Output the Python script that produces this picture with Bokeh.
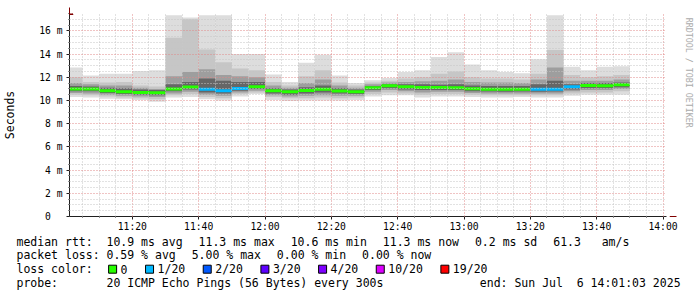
import re
import pandas as pd
from bokeh.plotting import figure
from bokeh.layouts import column, row
from bokeh.models import (Range1d, FixedTicker, DatetimeTickFormatter, Arrow, NormalHead,
                          ColumnDataSource)
from bokeh.core.properties import value
from bokeh.embed import file_html
from bokeh.resources import INLINE

# ---------------- data ----------------
t_start = pd.Timestamp("2025-07-06 11:01:03")
t_end = pd.Timestamp("2025-07-06 14:01:03")
bar_end = list(pd.date_range("2025-07-06 11:05:00", periods=34, freq="5min"))

rtt_median = [11.00, 11.00, 10.85, 10.75, 10.70, 10.67, 11.00, 11.16, 10.96, 10.84,
              11.04, 11.19, 10.84, 10.75, 10.87, 10.96, 10.81, 10.75, 11.10, 11.27,
              11.19, 11.13, 11.13, 11.10, 11.01, 10.98, 10.98, 10.98, 10.96, 10.98,
              11.19, 11.30, 11.27, 11.35]
rtt_max = [12.85, 12.15, 12.30, 12.30, 12.55, 12.60, 17.35, 17.15, 17.35, 17.35,
           14.00, 14.00, 12.25, 11.60, 13.25, 13.95, 12.15, 11.50, 11.75, 11.95,
           12.45, 12.60, 13.75, 14.15, 13.10, 12.60, 12.45, 12.35, 13.55, 17.35,
           12.90, 12.60, 12.90, 12.95]
rtt_p90 = [12.00, 11.60, 11.55, 11.60, 11.30, 11.20, 15.40, 17.00, 14.40, 13.30,
           12.75, 12.60, 11.60, 11.30, 12.10, 12.60, 11.55, 11.30, 11.55, 11.70,
           11.90, 12.00, 12.30, 12.50, 12.00, 11.90, 11.90, 11.80, 12.30, 14.35,
           12.20, 12.00, 12.10, 12.20]
rtt_p75 = [11.50, 11.40, 11.30, 11.30, 11.10, 11.00, 12.10, 12.45, 12.70, 12.20,
           12.10, 12.00, 11.30, 11.10, 11.50, 11.80, 11.30, 11.10, 11.40, 11.55,
           11.60, 11.65, 11.70, 11.80, 11.60, 11.55, 11.55, 11.50, 11.80, 12.85,
           11.70, 11.70, 11.70, 11.80]
rtt_p60 = [11.25, 11.20, 11.10, 11.05, 10.95, 10.90, 11.40, 11.60, 11.90, 11.70,
           11.60, 11.60, 11.05, 10.95, 11.15, 11.30, 11.05, 10.95, 11.25, 11.40,
           11.40, 11.40, 11.35, 11.40, 11.30, 11.25, 11.25, 11.25, 11.40, 11.70,
           11.40, 11.50, 11.50, 11.55]
rtt_p40 = [10.80, 10.80, 10.65, 10.55, 10.50, 10.45, 10.80, 10.95, 10.70, 10.60,
           10.85, 11.00, 10.60, 10.50, 10.60, 10.70, 10.60, 10.55, 10.90, 11.05,
           10.95, 10.90, 10.90, 10.90, 10.80, 10.78, 10.75, 10.78, 10.75, 10.78,
           10.95, 11.05, 11.05, 11.15]
rtt_p25 = [10.65, 10.60, 10.50, 10.40, 10.35, 10.30, 10.60, 10.75, 10.50, 10.40,
           10.70, 10.85, 10.45, 10.35, 10.40, 10.45, 10.40, 10.40, 10.75, 10.90,
           10.80, 10.70, 10.75, 10.75, 10.65, 10.60, 10.60, 10.60, 10.60, 10.60,
           10.80, 10.90, 10.90, 11.00]
rtt_p10 = [10.50, 10.45, 10.35, 10.25, 10.20, 10.10, 10.45, 10.55, 10.30, 10.20,
           10.55, 10.70, 10.30, 10.20, 10.20, 10.25, 10.20, 10.25, 10.55, 10.70,
           10.60, 10.50, 10.55, 10.55, 10.50, 10.45, 10.45, 10.45, 10.45, 10.45,
           10.60, 10.70, 10.70, 10.80]
rtt_min = [10.30, 10.25, 10.15, 10.10, 10.05, 9.90, 10.25, 10.30, 10.10, 10.00,
           10.35, 10.55, 10.05, 9.95, 10.00, 10.00, 10.00, 10.05, 10.35, 10.45,
           10.45, 10.25, 10.35, 10.35, 10.30, 10.25, 10.25, 10.30, 10.25, 10.25,
           10.40, 10.50, 10.50, 10.50]
loss_count = [0, 0, 0, 0, 0, 0, 0, 0, 1, 1,
              1, 0, 0, 0, 0, 0, 0, 0, 0, 0,
              0, 0, 0, 0, 0, 0, 0, 0, 1, 1,
              1, 0, 0, 0]

loss_legend = ["0", "1/20", "2/20", "3/20", "4/20", "10/20", "19/20"]
loss_keys = [0, 1, 2, 3, 4, 10, 19]
loss_colors = ["#26ff00", "#00b8ff", "#0059ff", "#5e00ff", "#7e00ff", "#dd00ff", "#ff0000"]

y_ticks = [0, 2, 4, 6, 8, 10, 12, 14, 16]
y_tick_labels = ["0\u00a0\u00a0", "2 m", "4 m", "6 m", "8 m", "10 m", "12 m", "14 m", "16 m"]

legend_line1 = ["median rtt:  10.9 ms avg", "11.3 ms max", "10.6 ms min", "11.3 ms now",
                "0.2 ms sd", "61.3   am/s"]
legend_line2 = ["packet loss: 0.59 % avg", "5.00 % max", "0.00 % min", "0.00 % now"]
legend_probe = "probe:       20 ICMP Echo Pings (56 Bytes) every 300s"
legend_end = "end: Sun Jul  6 14:01:03 2025"
watermark = "RRDTOOL / TOBI OETIKER"

# ---------------- layout constants (canvas px) ----------------
W, H = 697, 297
CH_W, CH_H = 680, 234          # chart figure size
FL, FR, FT, FB = 67, 666, 13, 216
MONO = "DejaVu Sans Mono"
FS = "11.5px"
CW = 6.92

# ---------------- chart ----------------
p = figure(width=CH_W, height=CH_H, x_axis_type="datetime", output_backend="svg",
           toolbar_location=None, title=None,
           x_range=Range1d(t_start, t_end), y_range=Range1d(0, 17.5),
           min_border_left=FL, min_border_right=CH_W - FR,
           min_border_top=FT, min_border_bottom=CH_H - FB)
p.outline_line_color = None
p.background_fill_color = "white"
p.border_fill_color = "white"

five = pd.Timedelta(minutes=5)
src = ColumnDataSource(dict(
    left=[t - five for t in bar_end], right=bar_end,
    mn=rtt_min, mx=rtt_max, p10=rtt_p10, p90=rtt_p90, p25=rtt_p25, p75=rtt_p75,
    p40=rtt_p40, p60=rtt_p60, med=rtt_median,
    col=[loss_colors[loss_keys.index(c)] for c in loss_count],
))

for lo, hi, c in [("mn", "mx", "#dddddd"), ("p10", "p90", "#c6c6c6"),
                  ("p25", "p75", "#9e9e9e"), ("p40", "p60", "#666666")]:
    p.quad(left="left", right="right", bottom=lo, top=hi, source=src,
           fill_color=c, line_color=None)

p.segment(x0="left", y0="med", x1="right", y1="med", source=src,
          line_color="col", line_width=3)


def ms(ts):
    return ts.value // 10**6


x_major = [ms(t) for t in pd.date_range("2025-07-06 11:20", "2025-07-06 14:00", freq="20min")]
x_minor = [ms(t) for t in pd.date_range("2025-07-06 11:05", "2025-07-06 14:00", freq="5min")
           if ms(t) not in x_major]
y_minor = [v / 2 for v in range(1, 36) if v % 4 != 0]

p.xaxis.ticker = FixedTicker(ticks=x_major, minor_ticks=x_minor)
p.yaxis.ticker = FixedTicker(ticks=y_ticks, minor_ticks=y_minor)
fmt = "%H:%M"
p.xaxis.formatter = DatetimeTickFormatter(minutes=fmt, hourmin=fmt, hours=fmt, minsec=fmt,
                                          seconds=fmt, days=fmt)
p.yaxis.major_label_overrides = {v: s for v, s in zip(y_ticks, y_tick_labels)}

for ax in (p.xaxis[0], p.yaxis[0]):
    ax.axis_line_color = "#202020"
    ax.major_tick_line_color = "#202020"
    ax.major_tick_out = 3
    ax.major_tick_in = 0
    ax.minor_tick_out = 1
    ax.minor_tick_in = 0
    ax.minor_tick_line_color = "#202020"
    ax.major_label_text_font = MONO
    ax.major_label_text_font_size = "9.7px"
    ax.major_label_text_color = "#000000"
p.yaxis.major_label_standoff = 4
p.xaxis.major_label_standoff = 1
p.yaxis.axis_label = "Seconds"
p.yaxis.axis_label_text_font = MONO
p.yaxis.axis_label_text_font_size = FS
p.yaxis.axis_label_text_font_style = "normal"
p.yaxis.axis_label_text_color = "#000000"
p.yaxis.axis_label_standoff = 19

for g in (p.xgrid[0], p.ygrid[0]):
    g.grid_line_color = "#e08888"
    g.grid_line_dash = "1 2"
    g.grid_line_width = 1
    g.minor_grid_line_color = "#c4c4c4"
    g.minor_grid_line_dash = "1 2"
    g.minor_grid_line_width = 1
    g.level = "guide"

red = "#800000"
p.add_layout(Arrow(end=NormalHead(size=7, fill_color=red, line_color=red),
                   x_start=0, y_start=FB - FT - 1, x_end=0, y_end=FB - 7,
                   start_units="screen", end_units="screen", line_color=red,
                   line_width=1, level="overlay"))
p.add_layout(Arrow(end=NormalHead(size=7, fill_color=red, line_color=red),
                   x_start=FR - FL + 1, y_start=0, x_end=674 - FL, y_end=0,
                   start_units="screen", end_units="screen", line_color=red,
                   line_width=1, level="overlay"))

# ---------------- watermark strip (right of chart) ----------------
wm = figure(width=W - CH_W, height=CH_H, output_backend="svg", toolbar_location=None,
            title=None, x_range=Range1d(CH_W, W), y_range=Range1d(CH_H, 0),
            x_axis_location=None, y_axis_location=None, min_border=0)
wm.outline_line_color = None
wm.grid.visible = False
wm.text(x=[688], y=[5], text=[watermark], angle=-1.5707963,
        text_font=value(MONO), text_font_size=value("8.3px"), text_color="#aaaaaa",
        text_align=value("left"), text_baseline=value("middle"))

# ---------------- legend block (below chart) ----------------
leg = figure(width=W, height=H - CH_H, output_backend="svg", toolbar_location=None,
             title=None, x_range=Range1d(0, W), y_range=Range1d(H, CH_H),
             x_axis_location=None, y_axis_location=None, min_border=0)
leg.outline_line_color = None
leg.grid.visible = False

tx, ty, tt = [], [], []


def put_mono(text, cx, cy):
    for m in re.finditer(r"\S+(?: \S+)*", text):
        tx.append(cx + m.start() * CW)
        ty.append(cy)
        tt.append(m.group())


GAP = 16
rows = [241, 254.7, 268.7, 282.7]
x = 16
for el in legend_line1:
    put_mono(el, x, rows[0])
    x += len(el) * CW + GAP
x = 16
for el in legend_line2:
    put_mono(el, x, rows[1])
    x += len(el) * CW + GAP

put_mono("loss color:", 16, rows[2])
sw_l, sw_r = [], []
x = 16 + 11 * CW + GAP
for lab in loss_legend:
    sw_l.append(x)
    sw_r.append(x + 8)
    put_mono(lab, x + 12, rows[2])
    x += 12 + len(lab) * CW + 18

put_mono(legend_probe, 16, rows[3])
put_mono(legend_end, 680 - len(legend_end) * CW, rows[3])

leg.quad(left=sw_l, right=sw_r, top=[rows[2] - 4] * len(sw_l), bottom=[rows[2] + 4] * len(sw_l),
         fill_color=loss_colors, line_color="#000000", line_width=1)
leg.text(x=tx, y=ty, text=tt, text_font=value(MONO), text_font_size=value(FS),
         text_color="#000000", text_align=value("left"), text_baseline=value("middle"))

layout = column(row(p, wm), leg)
open("out.html", "w").write(file_html(layout, INLINE))
